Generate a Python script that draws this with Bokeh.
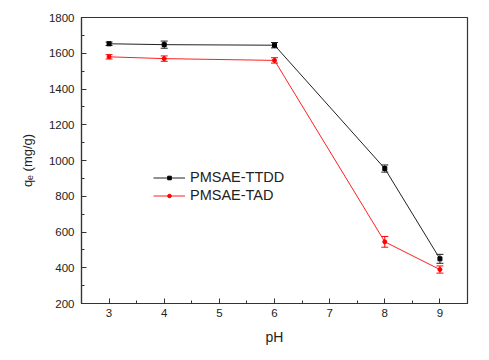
from bokeh.plotting import figure
from bokeh.models import Whisker, ColumnDataSource, FixedTicker, Legend, LegendItem, Range1d
from bokeh.embed import file_html
from bokeh.resources import INLINE

ph = [3, 4, 6, 8, 9]
ttdd = [1653, 1648, 1645, 955, 450]
ttdd_err = [10, 20, 15, 20, 25]
tad = [1580, 1570, 1560, 545, 390]
tad_err = [12, 15, 15, 30, 20]

x_ticks = [3, 4, 5, 6, 7, 8, 9]
y_ticks = [200, 400, 600, 800, 1000, 1200, 1400, 1600, 1800]

p = figure(width=481, height=352, output_backend="svg", toolbar_location=None,
           x_range=Range1d(2.5, 9.5), y_range=Range1d(200, 1800),
           min_border_left=81, min_border_right=14, min_border_top=17, min_border_bottom=49)
p.xgrid.visible = False
p.ygrid.visible = False
p.outline_line_color = "#333333"
p.outline_line_width = 1.2
p.background_fill_color = "white"
p.border_fill_color = "white"

s1 = ColumnDataSource(dict(x=ph, y=ttdd, lo=[v - e for v, e in zip(ttdd, ttdd_err)], hi=[v + e for v, e in zip(ttdd, ttdd_err)]))
s2 = ColumnDataSource(dict(x=ph, y=tad, lo=[v - e for v, e in zip(tad, tad_err)], hi=[v + e for v, e in zip(tad, tad_err)]))

l1 = p.line("x", "y", source=s1, line_color="#222222", line_width=1)
m1 = p.scatter("x", "y", source=s1, marker="square", size=4, color="black")
l2 = p.line("x", "y", source=s2, line_color="#ff2020", line_width=1)
m2 = p.scatter("x", "y", source=s2, marker="circle", size=4, color="red")

for src, col in ((s1, "#222222"), (s2, "red")):
    w = Whisker(source=src, base="x", lower="lo", upper="hi", line_color=col, line_width=1)
    w.upper_head.size = 7
    w.lower_head.size = 7
    w.upper_head.line_color = col
    w.lower_head.line_color = col
    p.add_layout(w)

for ax in (p.xaxis[0], p.yaxis[0]):
    ax.axis_line_color = "#333333"
    ax.axis_line_width = 1.2
    ax.major_tick_in = 5
    ax.major_tick_out = 0
    ax.minor_tick_in = 3
    ax.minor_tick_out = 0
    ax.major_tick_line_color = "#333333"
    ax.minor_tick_line_color = "#333333"
    ax.major_label_text_font = "Liberation Sans"
    ax.major_label_text_font_size = "11.5px"
    ax.major_label_text_color = "#222222"
    ax.axis_label_text_font = "Liberation Sans"
    ax.axis_label_text_font_style = "normal"
    ax.axis_label_text_color = "#222222"

p.xaxis.ticker = FixedTicker(ticks=x_ticks, minor_ticks=[2.5 + 0.5 * i for i in range(15)])
p.yaxis.ticker = FixedTicker(ticks=y_ticks, minor_ticks=[200 + 100 * i for i in range(17)])
p.xaxis.axis_label = "pH"
p.xaxis.axis_label_text_font_size = "14px"
p.xaxis.major_label_standoff = 5
p.xaxis.axis_label_standoff = 9
p.yaxis.axis_label = "qₑ (mg/g)"
p.yaxis.axis_label_text_font_size = "13px"
p.yaxis.major_label_standoff = 7
p.yaxis.axis_label_standoff = 11

legend = Legend(items=[LegendItem(label="PMSAE-TTDD", renderers=[l1, m1]),
                       LegendItem(label="PMSAE-TAD", renderers=[l2, m2])],
                location=(72, 99), padding=0, margin=0, spacing=0,
                glyph_width=32, glyph_height=9, label_height=18, label_standoff=5,
                border_line_color=None, background_fill_alpha=0,
                label_text_font="Liberation Sans", label_text_font_size="14.5px",
                label_text_color="#222222")
p.add_layout(legend, "center")

open("out.html", "w").write(file_html(p, INLINE))
